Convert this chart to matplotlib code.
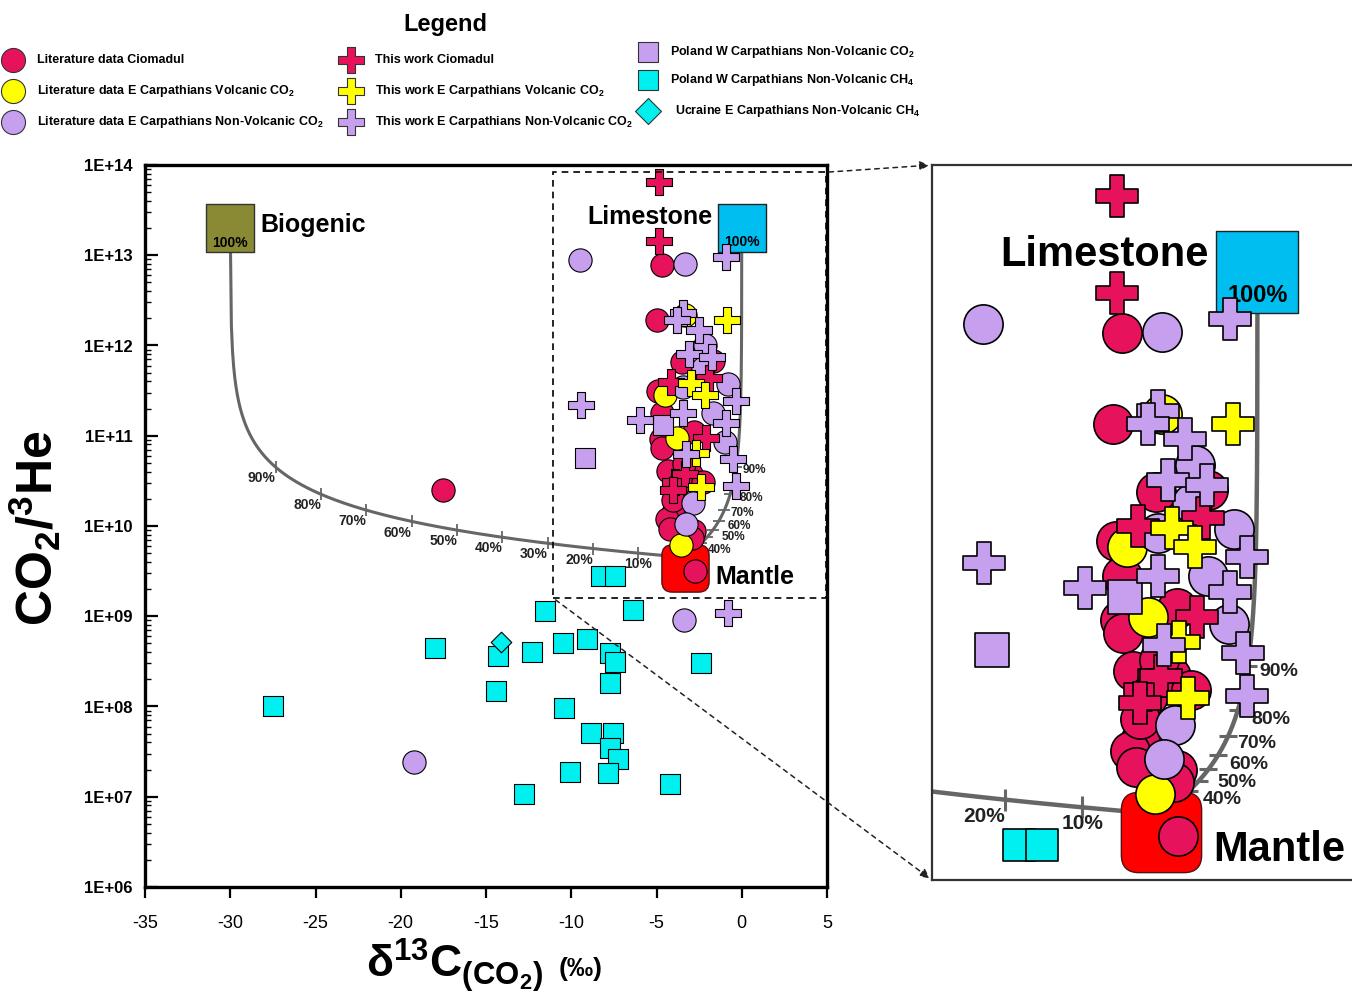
import numpy as np
import matplotlib
matplotlib.use("Agg")
import matplotlib.pyplot as plt
from matplotlib.path import Path
from matplotlib.patches import Rectangle, ConnectionPatch, BoxStyle

plt.rcParams['font.family'] = ['Liberation Sans', 'DejaVu Sans']
plt.rcParams['mathtext.fontset'] = 'custom'
plt.rcParams['mathtext.rm'] = 'Liberation Sans'
plt.rcParams['mathtext.bf'] = 'Liberation Sans:bold'
plt.rcParams['mathtext.default'] = 'bf'

# ---- data: delta13C (permil) and CO2/3He ----
# literature data, Ciomadul (red circles)
cio_lit_x = [-17.5, -4.7, -5.0, -3.5, -1.7, -4.9, -4.7, -2.8, -4.75, -4.65, -4.3, -3.0,
             -4.05, -4.4, -4.2, -2.8, -2.75, -3.8, -3.4, -2.3, -4.05, -2.9]
cio_lit_y = [2.5e10, 7.8e12, 1.9e12, 6.6e11, 6.8e11, 3.1e11, 1.8e11, 1.1e11, 9.1e10, 7.4e10,
             4.1e10, 3.8e10, 1.4e10, 1.2e10, 9.3e9, 8.9e9, 3.2e9, 2.8e10, 4.9e10, 3.1e10,
             1.95e10, 7.4e9]
# literature data, E Carpathians volcanic CO2 (yellow circles)
yel_lit_x = [-3.3, -4.5, -3.8, -3.55]
yel_lit_y = [2.2e12, 2.8e11, 9.5e10, 6.1e9]
# literature data, E Carpathians non-volcanic CO2 (purple circles)
pur_lit_x = [-19.2, -3.4, -9.5, -3.3, -2.15, -2.25, -3.45, -0.8, -1.7, -1.0, -2.85, -3.25]
pur_lit_y = [2.4e7, 9.1e8, 8.9e12, 7.9e12, 1.0e12, 5.6e11, 3.5e11, 3.7e11, 1.8e11, 8.6e10,
             1.8e10, 1.05e10]
# this work, Ciomadul (red crosses)
cio_tw_x = [-4.85, -4.85, -1.9, -4.15, -2.1, -3.9, -3.35, -4.05]
cio_tw_y = [6.5e13, 1.45e13, 4.4e11, 3.9e11, 9.5e10, 3.1e10, 3.8e10, 2.5e10]
# this work, E Carpathians volcanic CO2 (yellow crosses)
yel_tw_x = [-0.85, -2.95, -2.15, -2.7, -2.4]
yel_tw_y = [1.9e12, 3.8e11, 2.8e11, 6.5e10, 2.7e10]
# this work, E Carpathians non-volcanic CO2 (purple crosses)
pur_tw_x = [-0.8, -0.95, -3.45, -3.8, -2.5, -3.1, -1.75, -0.35, -0.95, -5.95, -3.45, -3.25,
            -0.5, -0.35, -9.45]
pur_tw_y = [1.1e9, 9.6e12, 2.3e12, 1.9e12, 1.5e12, 8.0e11, 7.4e11, 2.4e11, 1.4e11, 1.5e11,
            1.8e11, 6.2e10, 5.5e10, 2.8e10, 2.2e11]
# Poland W Carpathians non-volcanic CO2 (purple squares)
pol_co2_x = [-9.2, -4.6]
pol_co2_y = [5.7e10, 1.3e11]
# Poland W Carpathians non-volcanic CH4 (cyan squares)
pol_ch4_x = [-27.5, -18.0, -14.3, -14.4, -12.3, -11.55, -10.5, -9.05, -7.75, -7.45, -7.75,
             -10.45, -8.85, -7.55, -7.7, -7.25, -10.1, -7.85, -4.2, -2.4, -6.35, -12.8,
             -8.25, -7.45]
pol_ch4_y = [1.0e8, 4.5e8, 3.6e8, 1.5e8, 4.0e8, 1.15e9, 5.1e8, 5.6e8, 3.9e8, 3.1e8, 1.8e8,
             9.6e7, 5.1e7, 5.1e7, 3.5e7, 2.6e7, 1.9e7, 1.85e7, 1.4e7, 3.0e8, 1.17e9, 1.07e7,
             2.8e9, 2.8e9]
# Ukraine E Carpathians non-volcanic CH4 (cyan diamond)
ukr_x = [-14.1]
ukr_y = [5.2e8]

# end-members (delta13C, CO2/3He)
biogenic = (-30.0, 2.0e13)
limestone = (0.0, 2.0e13)
mantle = (-3.4, 4.5e9)
mantle_box = (-3.35, 3.4e9)
mix_fracs = [0.1, 0.2, 0.3, 0.4, 0.5, 0.6, 0.7, 0.8, 0.9]
mix_labels = ['10%', '20%', '30%', '40%', '50%', '60%', '70%', '80%', '90%']

yticks = [1e6, 1e7, 1e8, 1e9, 1e10, 1e11, 1e12, 1e13, 1e14]
ytick_labels = ['1E+06', '1E+07', '1E+08', '1E+09', '1E+10', '1E+11', '1E+12', '1E+13', '1E+14']
xticks = [-35, -30, -25, -20, -15, -10, -5, 0, 5]

RED = '#E6135C'
YEL = '#FFFF00'
PUR = '#C6A0EE'
CYAN = '#00F0F0'
LIME = '#00BEF0'
OLIVE = '#8A8A35'
CURVE = '#666666'

# label offsets (points) for the limestone-mantle curve percentages
lime_off_main = {'40%': (1, -9), '50%': (6.5, -5), '60%': (6.5, -3.5), '70%': (4.5, -2),
                 '80%': (6.5, -3), '90%': (5, -2)}
lime_off_inset = {'40%': (3, -13), '50%': (6.5, -9.5), '60%': (8, -7), '70%': (6.5, -5),
                  '80%': (10, -6.5), '90%': (8.5, -4.5)}

w = 0.16
PLUS = Path([(-w, 0.5), (w, 0.5), (w, w), (0.5, w), (0.5, -w), (w, -w), (w, -0.5),
             (-w, -0.5), (-w, -w), (-0.5, -w), (-0.5, w), (-w, w), (-w, 0.5)], closed=True)
ROUND_SQ = BoxStyle.Round(pad=0, rounding_size=0.22)(-0.5, -0.5, 1.0, 1.0, 1.0)


def mix(f, end):
    f = np.asarray(f)
    x = f * end[0] + (1 - f) * mantle[0]
    y = 1.0 / (f / end[1] + (1 - f) / mantle[1])
    return x, y


def draw_points(ax, k, lw):
    kw = dict(edgecolors='black', linewidths=lw)
    ax.scatter(cio_lit_x, cio_lit_y, s=280 * k, marker='o', c=RED, zorder=4, **kw)
    ax.scatter(yel_lit_x, yel_lit_y, s=280 * k, marker='o', c=YEL, zorder=4, **kw)
    ax.scatter(pur_lit_x, pur_lit_y, s=280 * k, marker='o', c=PUR, zorder=4, **kw)
    ax.scatter(pol_co2_x, pol_co2_y, s=200 * k, marker='s', c=PUR, zorder=5, **kw)
    ax.scatter(pol_ch4_x, pol_ch4_y, s=190 * k, marker='s', c=CYAN, zorder=5, **kw)
    ax.scatter(ukr_x, ukr_y, s=110 * k, marker='D', c=CYAN, zorder=5, **kw)
    ax.scatter(cio_tw_x, cio_tw_y, s=330 * k, marker=PLUS, c=RED, zorder=6, **kw)
    ax.scatter(yel_tw_x, yel_tw_y, s=330 * k, marker=PLUS, c=YEL, zorder=6, **kw)
    ax.scatter(pur_tw_x, pur_tw_y, s=330 * k, marker=PLUS, c=PUR, zorder=6, **kw)


def draw_model(ax, k, curve_lw, pct_fs, lime_fs, bio_labels, lime_off):
    f = np.linspace(0, 1, 400)
    for end in (biogenic, limestone):
        cx, cy = mix(f, end)
        ax.plot(cx, cy, color=CURVE, lw=curve_lw, zorder=1, solid_capstyle='butt')
    bx, by = mix(mix_fracs, biogenic)
    ax.plot(bx, by, ls='none', marker='|', ms=9 * k, mew=1.3 * k, color=CURVE, zorder=1)
    lx, ly = mix(mix_fracs, limestone)
    ax.plot(lx, ly, ls='none', marker='_', ms=8 * k, mew=1.3 * k, color=CURVE, zorder=1)
    for i, lab in enumerate(mix_labels):
        if lab in bio_labels:
            ha = 'center' if lab == '10%' else 'right'
            ax.annotate(lab, (bx[i], by[i]), xytext=(0, -3 * k), textcoords='offset points',
                        ha=ha, va='top', fontsize=pct_fs, fontweight='bold', color='#222222',
                        zorder=3, annotation_clip=False)
        if lab in lime_off:
            ax.annotate(lab, (lx[i], ly[i]), xytext=lime_off[lab], textcoords='offset points',
                        ha='left', va='center', fontsize=lime_fs, fontweight='bold',
                        color='#222222', zorder=3, annotation_clip=False)
    # end-member boxes
    ax.scatter([limestone[0]], [limestone[1]], s=(35 * k) ** 2, marker='s', c=LIME,
               edgecolors='#222222', linewidths=1.0, zorder=2)
    ax.annotate('100%', limestone, xytext=(0, -10 * k), textcoords='offset points',
                ha='center', va='center', fontsize=10 * k, fontweight='bold', zorder=2.5)
    ax.scatter([mantle_box[0]], [mantle_box[1]], s=(34 * k) ** 2, marker=ROUND_SQ,
               c='#FF0000', edgecolors='#551111', linewidths=1.0, zorder=2)


fig = plt.figure(figsize=(13.52, 10.05), dpi=100)

# ---- main axes ----
ax = fig.add_axes([145 / 1352, 1 - 887 / 1005, 682 / 1352, 722 / 1005])
ax.set_yscale('log')
ax.set_xlim(-35, 5)
ax.set_ylim(1e6, 1e14)
draw_model(ax, 1.0, 2.2, 10, 8.5, mix_labels, lime_off_main)
ax.scatter([biogenic[0]], [biogenic[1]], s=35 ** 2, marker='s', c=OLIVE,
           edgecolors='#333333', linewidths=1.0, zorder=2)
ax.annotate('100%', biogenic, xytext=(0, -11), textcoords='offset points',
            ha='center', va='center', fontsize=10, fontweight='bold', zorder=2.5)
ax.annotate('Biogenic', biogenic, xytext=(22, 2), textcoords='offset points',
            ha='left', va='center', fontsize=18, fontweight='bold', zorder=7)
ax.annotate('Limestone', limestone, xytext=(-21, 8), textcoords='offset points',
            ha='right', va='center', fontsize=18, fontweight='bold', zorder=7)
ax.annotate('Mantle', mantle_box, xytext=(22, -6), textcoords='offset points',
            ha='left', va='center', fontsize=18, fontweight='bold', zorder=7)
draw_points(ax, 1.0, 0.8)

ax.add_patch(Rectangle((-11.05, 10 ** 9.2), 16.0, 10 ** 13.92 - 10 ** 9.2, fill=False,
                       ls=(0, (4, 3)), lw=1.2, edgecolor='black', zorder=8))

ax.set_xticks(xticks)
ax.set_xticklabels([str(t) for t in xticks], fontsize=13)
ax.set_yticks(yticks)
ax.set_yticklabels(ytick_labels, fontsize=12, fontweight='bold')
ax.yaxis.set_minor_locator(matplotlib.ticker.LogLocator(base=10, subs=np.arange(2, 10), numticks=20))
ax.yaxis.set_minor_formatter(matplotlib.ticker.NullFormatter())
ax.tick_params(axis='y', which='major', direction='in', length=9, width=1.6, pad=9)
ax.tick_params(axis='y', which='minor', direction='in', length=4, width=1.0)
ax.tick_params(axis='x', which='major', direction='out', length=8, width=1.6, pad=12)
for s in ax.spines.values():
    s.set_linewidth(2.4)

fig.text(35 / 1352, 1 - 528 / 1005, r'CO$_2$/$^3$He', rotation=90, ha='center', va='center',
         fontsize=36, fontweight='bold')
fig.text(455 / 1352, 1 - 965 / 1005, r'δ$^{13}$C$_{(CO_2)}$', ha='center', va='center',
         fontsize=32, fontweight='bold')
fig.text(581 / 1352, 1 - 969 / 1005, '(‰)', ha='center', va='center', fontsize=19,
         fontweight='bold')

# ---- zoomed inset ----
axi = fig.add_axes([932 / 1352, 1 - 880 / 1005, 420 / 1352, 715 / 1005])
axi.set_yscale('log')
axi.set_xlim(-11.26, 3.27)
axi.set_ylim(10 ** 9.21, 10 ** 14.02)
axi.set_xticks([])
axi.set_yticks([])
axi.minorticks_off()
draw_model(axi, 1.7, 3.2, 15, 14, ['10%', '20%'], lime_off_inset)
axi.annotate('Limestone', limestone, xytext=(-35, 12), textcoords='offset points',
             ha='right', va='center', fontsize=30, fontweight='bold', zorder=7)
axi.annotate('Mantle', mantle_box, xytext=(38, -13), textcoords='offset points',
             ha='left', va='center', fontsize=30, fontweight='bold', zorder=7,
             annotation_clip=False)
draw_points(axi, 2.85, 1.2)
for s in axi.spines.values():
    s.set_linewidth(1.6)
    s.set_color('#333333')
axi.spines['right'].set_visible(False)

for xa, xb in [((4.95, 10 ** 13.92), (0, 1)), ((-11.05, 10 ** 9.2), (0, 0))]:
    con = ConnectionPatch(xyA=xa, coordsA=ax.transData, xyB=xb, coordsB=axi.transAxes,
                          arrowstyle='-|>', mutation_scale=14, ls=(0, (3, 3)), lw=1.1,
                          color='#222222', shrinkA=2, shrinkB=2)
    fig.add_artist(con)

# ---- legend ----
lax = fig.add_axes([0, 1 - 140 / 1005, 1, 140 / 1005])
lax.set_xlim(0, 1352)
lax.set_ylim(140, 0)
lax.axis('off')
lax.text(445, 25, 'Legend', ha='center', va='center', fontsize=17, fontweight='bold')
entries = [
    ('Literature data Ciomadul', RED, 'o', 300),
    ('Literature data E Carpathians Volcanic CO$_2$', YEL, 'o', 300),
    ('Literature data E Carpathians Non-Volcanic CO$_2$', PUR, 'o', 300),
    ('This work Ciomadul', RED, PLUS, 360),
    ('This work E Carpathians Volcanic CO$_2$', YEL, PLUS, 360),
    ('This work E Carpathians Non-Volcanic CO$_2$', PUR, PLUS, 360),
    ('Poland W Carpathians Non-Volcanic CO$_2$', PUR, 's', 190),
    ('Poland W Carpathians Non-Volcanic CH$_4$', CYAN, 's', 190),
    ('Ucraine E Carpathians Non-Volcanic CH$_4$', CYAN, 'D', 175),
]
col_x = [13, 351, 648]
text_x = [37, 375, 670]
row_y = [[60, 91, 122], [60, 91, 122], [52, 80, 111]]
for i, (lab, col, mk, sz) in enumerate(entries):
    c, r = divmod(i, 3)
    lax.scatter([col_x[c]], [row_y[c][r]], s=sz, marker=mk, c=col, edgecolors='#333333',
                linewidths=0.8, clip_on=False)
    lax.text(text_x[c] + (5 if mk == 'D' else 0), row_y[c][r], lab, ha='left', va='center',
             fontsize=9, fontweight='bold')

fig.savefig('out.png', dpi=100)
